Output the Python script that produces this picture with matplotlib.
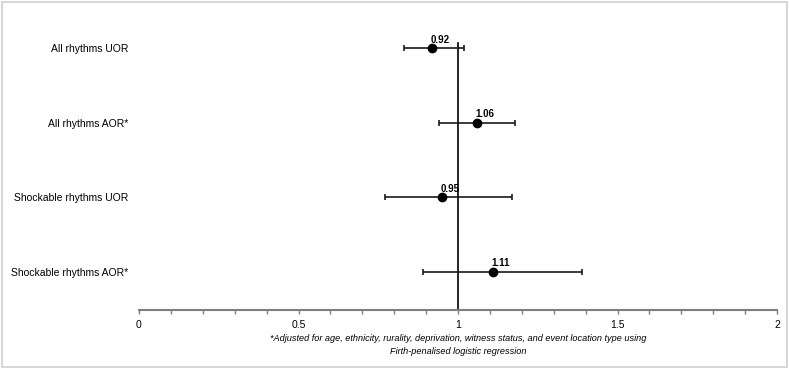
import matplotlib.pyplot as plt
from matplotlib.patches import Rectangle

labels = ["All rhythms UOR", "All rhythms AOR*", "Shockable rhythms UOR", "Shockable rhythms AOR*"]
odds = [0.92, 1.06, 0.95, 1.11]
lower = [0.83, 0.94, 0.77, 0.89]
upper = [1.02, 1.18, 1.17, 1.39]
footnote = ("*Adjusted for age, ethnicity, rurality, deprivation, witness status, and event location type using\n"
            "Firth-penalised logistic regression")

plt.rcParams["font.family"] = ["Liberation Sans", "DejaVu Sans"]

fig = plt.figure(figsize=(7.89, 3.69), dpi=100)
ax = fig.add_axes([139 / 789, 59 / 369, 638 / 789, 300 / 369])

ypos = [4, 3, 2, 1]
err_lo = [o - l for o, l in zip(odds, lower)]
err_hi = [u - o for o, u in zip(odds, upper)]
ax.errorbar(odds, ypos, xerr=[err_lo, err_hi], fmt="o", color="black", ecolor="#1a1a1a",
            elinewidth=1.2, capsize=2, capthick=1.2, markersize=6, zorder=3)

# reference line at OR = 1
ax.plot([1, 1], [0.49, 4.07], color="black", lw=1.2, zorder=2)

for o, y in zip(odds, ypos):
    ax.annotate(f"{o:.2f}", (o, y), xytext=(-1, 2.5), textcoords="offset points",
                ha="left", va="bottom", fontsize=7, fontweight="bold")

ax.set_xlim(0, 2)
ax.set_ylim(0.49, 4.51)
ax.set_xticks([0, 0.5, 1, 1.5, 2])
ax.set_xticklabels(["0", "0.5", "1", "1.5", "2"], fontsize=7.5)
ax.set_xticks([i / 10 for i in range(21)], minor=True)
ax.tick_params(axis="x", which="both", direction="out", length=3, color="#7f7f7f", width=1, pad=4)
ax.set_yticks(ypos)
ax.set_yticklabels(labels, fontsize=7.5)
ax.tick_params(axis="y", length=0, pad=8)

for s in ["top", "right", "left"]:
    ax.spines[s].set_visible(False)
ax.spines["bottom"].set_color("#7f7f7f")
ax.spines["bottom"].set_linewidth(1.5)

fig.text(458 / 789, 1 - 345 / 369, footnote, ha="center", va="center", fontsize=6.6,
         style="italic", family=["Liberation Sans Narrow", "Liberation Sans", "DejaVu Sans"],
         linespacing=1.7)

fig.patches.append(Rectangle((2 / 789, 2 / 369), 785 / 789, 365 / 369, transform=fig.transFigure,
                             fill=False, edgecolor="#d0d0d0", lw=1.2))

fig.savefig("out.png", dpi=100)
